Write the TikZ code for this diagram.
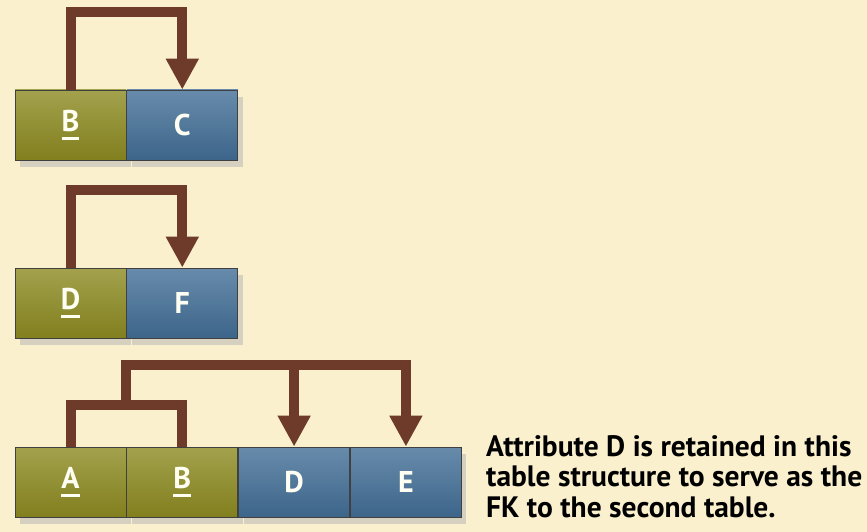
\documentclass[tikz,border=0pt]{standalone}
\usepackage{fontspec}
\setmainfont{PT Sans}
\usetikzlibrary{positioning,arrows.meta,shadows}

\definecolor{paper}{RGB}{250,240,205}
\definecolor{keyolive}{RGB}{140,138,32}
\definecolor{attrblue}{RGB}{66,110,150}
\definecolor{fkbrown}{RGB}{110,58,42}

\newsavebox\keybox
\newcommand\pkey[1]{\sbox\keybox{#1}\usebox\keybox\kern-\wd\keybox
  \raisebox{-8pt}{\rule{\wd\keybox}{2.5pt}}}

\tikzset{
  cell/.style = {draw=black!75, line width=0.8pt, minimum width=111pt,
    minimum height=70pt, inner sep=0pt, text=white!95!yellow,
    font=\bfseries\fontsize{30}{30}\selectfont,
    drop shadow={shadow xshift=5pt, shadow yshift=-7pt, fill=black!30}},
  keycell/.style = {cell, top color=keyolive!80!white, bottom color=keyolive!92!black},
  attrcell/.style = {cell, top color=attrblue!80!white, bottom color=attrblue!92!black},
  link/.style = {fkbrown, line width=10pt, line join=miter},
  fk/.style = {link, -{Triangle[width=31pt,length=31pt]}},
}

\begin{document}
\begin{tikzpicture}[x=1pt, y=-1pt]
\useasboundingbox[fill=paper] (0,0) rectangle (867,532);

% first table
\node[keycell] (b1) at (70.5,125) {\pkey{B}};
\node[attrcell, right=0pt of b1] (c1) {C};
\draw[fk] (b1.north) -- ++(0,-78) -| (c1.north);

% second table
\node[keycell] (d2) at (70.5,303) {\pkey{D}};
\node[attrcell, right=0pt of d2] (f2) {F};
\draw[fk] (d2.north) -- ++(0,-78) -| (f2.north);

% third table
\node[keycell] (a3) at (70.5,482) {\pkey{A}};
\node[keycell, right=0pt of a3] (b3) {\pkey{B}};
\node[attrcell, right=0pt of b3] (d3) {D};
\node[attrcell, right=0pt of d3] (e3) {E};
\coordinate (ab) at ([yshift=42pt]a3.north east);
\coordinate (top) at ([yshift=40pt]ab);
\draw[link] (a3.north) |- (ab) -| (b3.north);
\draw[fk] (ab) |- (top) -| (e3.north);
\draw[fk] (d3.north |- top) -- (d3.north);

\node[anchor=north west, align=left, inner sep=0pt,
  font=\bfseries\fontsize{29.5}{30.5}\selectfont] (note) at (486,435)
  {Attribute D is retained in this\\table structure to serve as the\\FK to the second table.};
\end{tikzpicture}
\end{document}
